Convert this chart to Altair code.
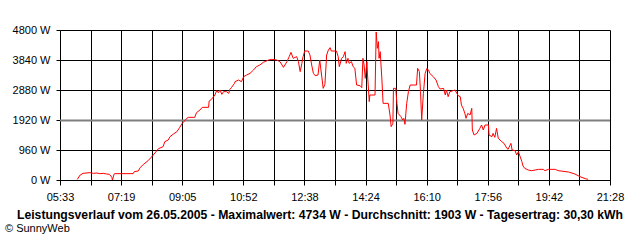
import altair as alt
import pandas as pd

# time in minutes since midnight, power in W
minutes = [363, 368, 373, 385, 391, 397, 402, 408, 414, 419, 423, 424, 427, 428, 460, 462, 469, 472, 478, 486,
           495, 504, 512, 515, 521, 524, 530, 536, 541, 545, 550, 553, 556, 567, 570, 576, 580, 591, 592, 596,
           602, 605, 608, 611, 614, 617, 622, 626, 628, 631, 636, 637, 643, 648, 652, 657, 663, 669, 674, 680,
           686, 695, 701, 709, 715, 721, 727, 731, 734, 738, 744, 747, 750, 753, 755, 758, 764, 767, 770, 773,
           776, 781, 784, 790, 793, 796, 799, 802, 804, 813, 816, 818, 822, 825, 828, 830, 833, 835, 839, 842,
           845, 848, 854, 857, 859, 861, 863, 866, 867, 870, 871, 880, 882, 884, 886, 887, 889, 892, 894, 903,
           906, 908, 911, 912, 916, 918, 920, 925, 928, 930, 932, 935, 938, 941, 952, 954, 957, 959, 961, 964,
           967, 970, 973, 975, 981, 986, 990, 993, 999, 1002, 1004, 1007, 1010, 1019, 1022, 1025, 1028, 1030, 1033, 1036,
           1038, 1041, 1045, 1048, 1049, 1052, 1057, 1062, 1065, 1068, 1071, 1077, 1078, 1083, 1085, 1088, 1091, 1094, 1100, 1104,
           1109, 1111, 1116, 1118, 1123, 1126, 1129, 1132, 1135, 1137, 1140, 1146, 1152, 1158, 1164, 1172, 1175, 1181, 1193, 1198,
           1216, 1227, 1236, 1245, 1250]
power = [20, 160, 213, 235, 213, 224, 203, 213, 192, 181, 85, 0, 192, 203, 203, 267, 288, 395, 501, 619,
         800, 1003, 1067, 1227, 1280, 1387, 1472, 1547, 1685, 1813, 1899, 1973, 2005, 2005, 2155, 2240, 2325, 2325, 2528, 2581,
         2720, 2859, 2795, 2880, 2741, 2827, 2827, 2773, 2901, 2965, 3093, 3147, 3200, 3147, 3307, 3360, 3413, 3520, 3627, 3680,
         3765, 3840, 3861, 3840, 3787, 3605, 3787, 3947, 4085, 3893, 3947, 3787, 3467, 3733, 3947, 4128, 4128, 4000, 3680, 3413,
         3339, 3360, 3840, 2933, 3061, 4000, 4160, 4235, 4128, 4128, 3947, 3627, 3893, 3947, 4107, 3733, 3893, 3733, 3787, 3627,
         3573, 3040, 3019, 2955, 3893, 3680, 3253, 3787, 3360, 2507, 2720, 2720, 4734, 4213, 4427, 3893, 4107, 3200, 2453, 2453,
         2080, 1707, 1813, 2933, 2933, 2453, 2133, 2027, 1920, 1973, 1781, 2453, 2827, 3040, 3040, 3573, 3467, 2827, 1920, 2773,
         3413, 3573, 3520, 3413, 3307, 3200, 2987, 2912, 2933, 2720, 2880, 2667, 2827, 2880, 2773, 2688, 2667, 2400, 2293, 2133,
         1973, 2133, 2080, 2293, 1600, 1440, 1493, 1653, 1760, 1600, 1760, 1760, 1440, 1387, 1493, 1365, 1653, 1333, 1227, 1173,
         1013, 981, 1173, 960, 939, 800, 907, 747, 587, 448, 373, 320, 299, 320, 341, 341, 299, 341, 341, 299,
         256, 192, 107, 43, 21]

x_labels = ["05:33", "07:19", "09:05", "10:52", "12:38", "14:24", "16:10", "17:56", "19:42", "21:28"]
y_values = [0, 960, 1920, 2880, 3840, 4800]
average = [1903]
title_text = "Leistungsverlauf vom 26.05.2005 - Maximalwert: 4734 W - Durchschnitt: 1903 W - Tagesertrag: 30,30 kWh"
credit_text = "© SunnyWeb"

t0, t1 = 333, 1288
step = (t1 - t0) / 18
x_ticks = [t0 + i * step for i in range(19)]

df = pd.DataFrame({"t": minutes, "p": power})
avg_df = pd.DataFrame({"p": average})

lab_arr = "[" + ",".join("'%s'" % s for s in x_labels) + "]"
label_expr = (f"(round((datum.value-{t0})/{step}) % 2 == 0) ? "
              f"{lab_arr}[round((datum.value-{t0})/{step})/2] : ''")

FONT = "Liberation Sans"

x_axis = alt.Axis(values=x_ticks, grid=True, gridColor="black", gridOpacity=1, gridWidth=1,
                  tickColor="black", tickSize=5, domainColor="black",
                  labelExpr=label_expr, labelFont=FONT, labelFontSize=11, labelColor="black",
                  labelFlush=False, labelOverlap=False, labelBound=False, labelPadding=6,
                  title=None)
y_axis = alt.Axis(values=y_values, grid=True, gridColor="black", gridOpacity=1, gridWidth=1,
                  tickColor="black", tickSize=4, domainColor="black",
                  labelExpr="datum.value + ' W'", labelFont=FONT, labelFontSize=11,
                  labelColor="black", labelPadding=6, labelFlush=False, labelOverlap=False,
                  title=None)
x_scale = alt.Scale(domain=[t0, t1], nice=False, zero=False)
y_scale = alt.Scale(domain=[0, 4800], nice=False)

line = alt.Chart(df).mark_line(color="#ff0000", strokeWidth=1).encode(
    x=alt.X("t:Q", scale=x_scale, axis=x_axis),
    y=alt.Y("p:Q", scale=y_scale, axis=y_axis),
)

avg_rule = alt.Chart(avg_df).mark_rule(color="#808080", strokeWidth=2).encode(
    y=alt.Y("p:Q", scale=y_scale, axis=y_axis)
)

title = alt.Chart(pd.DataFrame({"s": [title_text]})).mark_text(
    font=FONT, fontSize=12.2, fontWeight="bold", color="black", align="center", baseline="middle"
).encode(text="s:N", x=alt.value(260), y=alt.value(185))

credit = alt.Chart(pd.DataFrame({"s": [credit_text]})).mark_text(
    font=FONT, fontSize=11, color="black", align="left", baseline="middle"
).encode(text="s:N", x=alt.value(-55), y=alt.value(199))

chart = alt.layer(avg_rule, line, title, credit).properties(
    width=550, height=150,
    padding={"left": 60, "top": 30, "right": 30, "bottom": 60},
    autosize=alt.AutoSizeParams(type="none"),
    background="white",
).configure_view(strokeWidth=0)

chart.save("out.html", embed_options={"renderer": "svg", "actions": False})
